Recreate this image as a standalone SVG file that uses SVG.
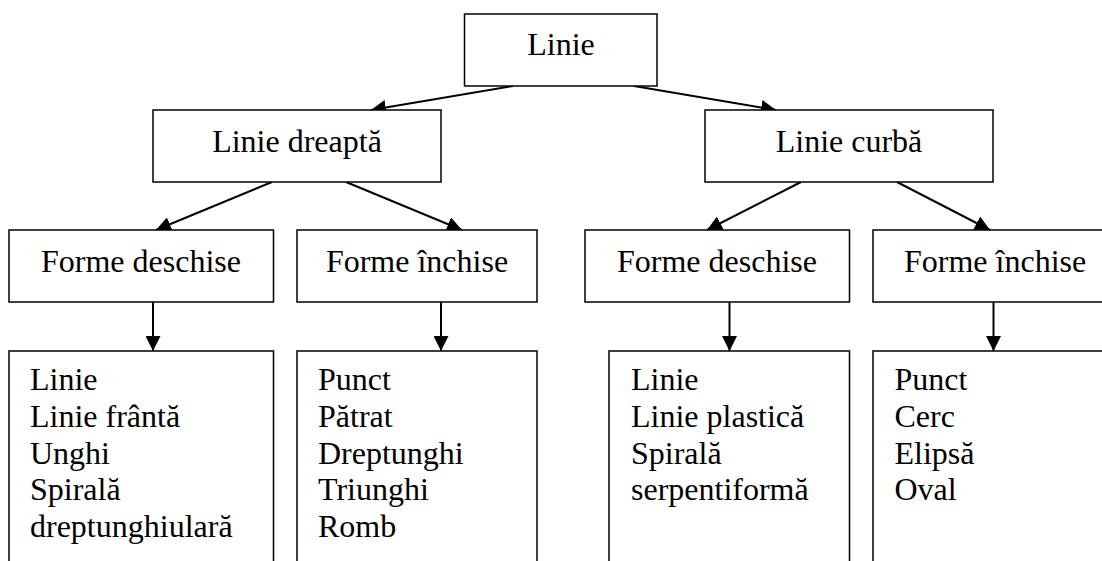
<svg xmlns="http://www.w3.org/2000/svg" width="1102" height="561" viewBox="0 0 1102 561">
<style>
.box{fill:#fff;stroke:#000;stroke-width:1.5}
.t{font-family:'Liberation Serif','Times New Roman',serif;font-size:32px;fill:#000}
.m{text-anchor:middle}
.c{stroke:#000;stroke-width:2;fill:none;marker-end:url(#ah)}
</style>
<defs>
<marker id="ah" markerUnits="userSpaceOnUse" markerWidth="16" markerHeight="15" refX="15" refY="7.5" orient="auto">
<path d="M0,0 L15,7.5 L0,15 z" fill="#000"/>
</marker>
</defs>
<rect width="1102" height="561" fill="#fff"/>
<g id="connectors">
<line class="c" x1="513" y1="86" x2="371" y2="110"/>
<line class="c" x1="634" y1="86" x2="776" y2="110"/>
<line class="c" x1="272" y1="182" x2="156" y2="230"/>
<line class="c" x1="346" y1="182" x2="462" y2="230"/>
<line class="c" x1="801" y1="182" x2="707" y2="230"/>
<line class="c" x1="897" y1="182" x2="990" y2="230"/>
<line class="c" x1="153" y1="302" x2="153" y2="351"/>
<line class="c" x1="441" y1="302" x2="441" y2="351"/>
<line class="c" x1="729.5" y1="302" x2="729.5" y2="351"/>
<line class="c" x1="993.5" y1="302" x2="993.5" y2="351"/>
</g>
<g id="linie">
<rect class="box" x="464.5" y="14" width="192.5" height="72"/>
<text class="t m" x="561" y="55">Linie</text>
</g>
<g id="linie-dreapta">
<rect class="box" x="153" y="110" width="288" height="72"/>
<text class="t m" x="297" y="152">Linie dreaptă</text>
</g>
<g id="linie-curba">
<rect class="box" x="705" y="110" width="288" height="72"/>
<text class="t m" x="849" y="152">Linie curbă</text>
</g>
<g id="forme-deschise-1">
<rect class="box" x="9" y="230" width="264.5" height="72"/>
<text class="t m" x="141" y="272">Forme deschise</text>
</g>
<g id="forme-inchise-1">
<rect class="box" x="297" y="230" width="240" height="72"/>
<text class="t m" x="417" y="272">Forme închise</text>
</g>
<g id="forme-deschise-2">
<rect class="box" x="585" y="230" width="264.5" height="72"/>
<text class="t m" x="717" y="272">Forme deschise</text>
</g>
<g id="forme-inchise-2">
<rect class="box" x="873" y="230" width="240" height="72"/>
<text class="t" x="904" y="272">Forme închise</text>
</g>
<g id="lista-1">
<rect class="box" x="9" y="351" width="264.5" height="230"/>
<text class="t" x="30" y="390">Linie</text>
<text class="t" x="30" y="427">Linie frântă</text>
<text class="t" x="30" y="463.5">Unghi</text>
<text class="t" x="30" y="500">Spirală</text>
<text class="t" x="30" y="537">dreptunghiulară</text>
</g>
<g id="lista-2">
<rect class="box" x="297" y="351" width="240" height="230"/>
<text class="t" x="318" y="390">Punct</text>
<text class="t" x="318" y="427">Pătrat</text>
<text class="t" x="318" y="463.5">Dreptunghi</text>
<text class="t" x="318" y="500">Triunghi</text>
<text class="t" x="318" y="537">Romb</text>
</g>
<g id="lista-3">
<rect class="box" x="609" y="351" width="240.5" height="230"/>
<text class="t" x="631" y="390">Linie</text>
<text class="t" x="631" y="427">Linie plastică</text>
<text class="t" x="631" y="463.5">Spirală</text>
<text class="t" x="631" y="500">serpentiformă</text>
</g>
<g id="lista-4">
<rect class="box" x="873" y="351" width="240" height="230"/>
<text class="t" x="894.5" y="390">Punct</text>
<text class="t" x="894.5" y="427">Cerc</text>
<text class="t" x="894.5" y="463.5">Elipsă</text>
<text class="t" x="894.5" y="500">Oval</text>
</g>
</svg>
